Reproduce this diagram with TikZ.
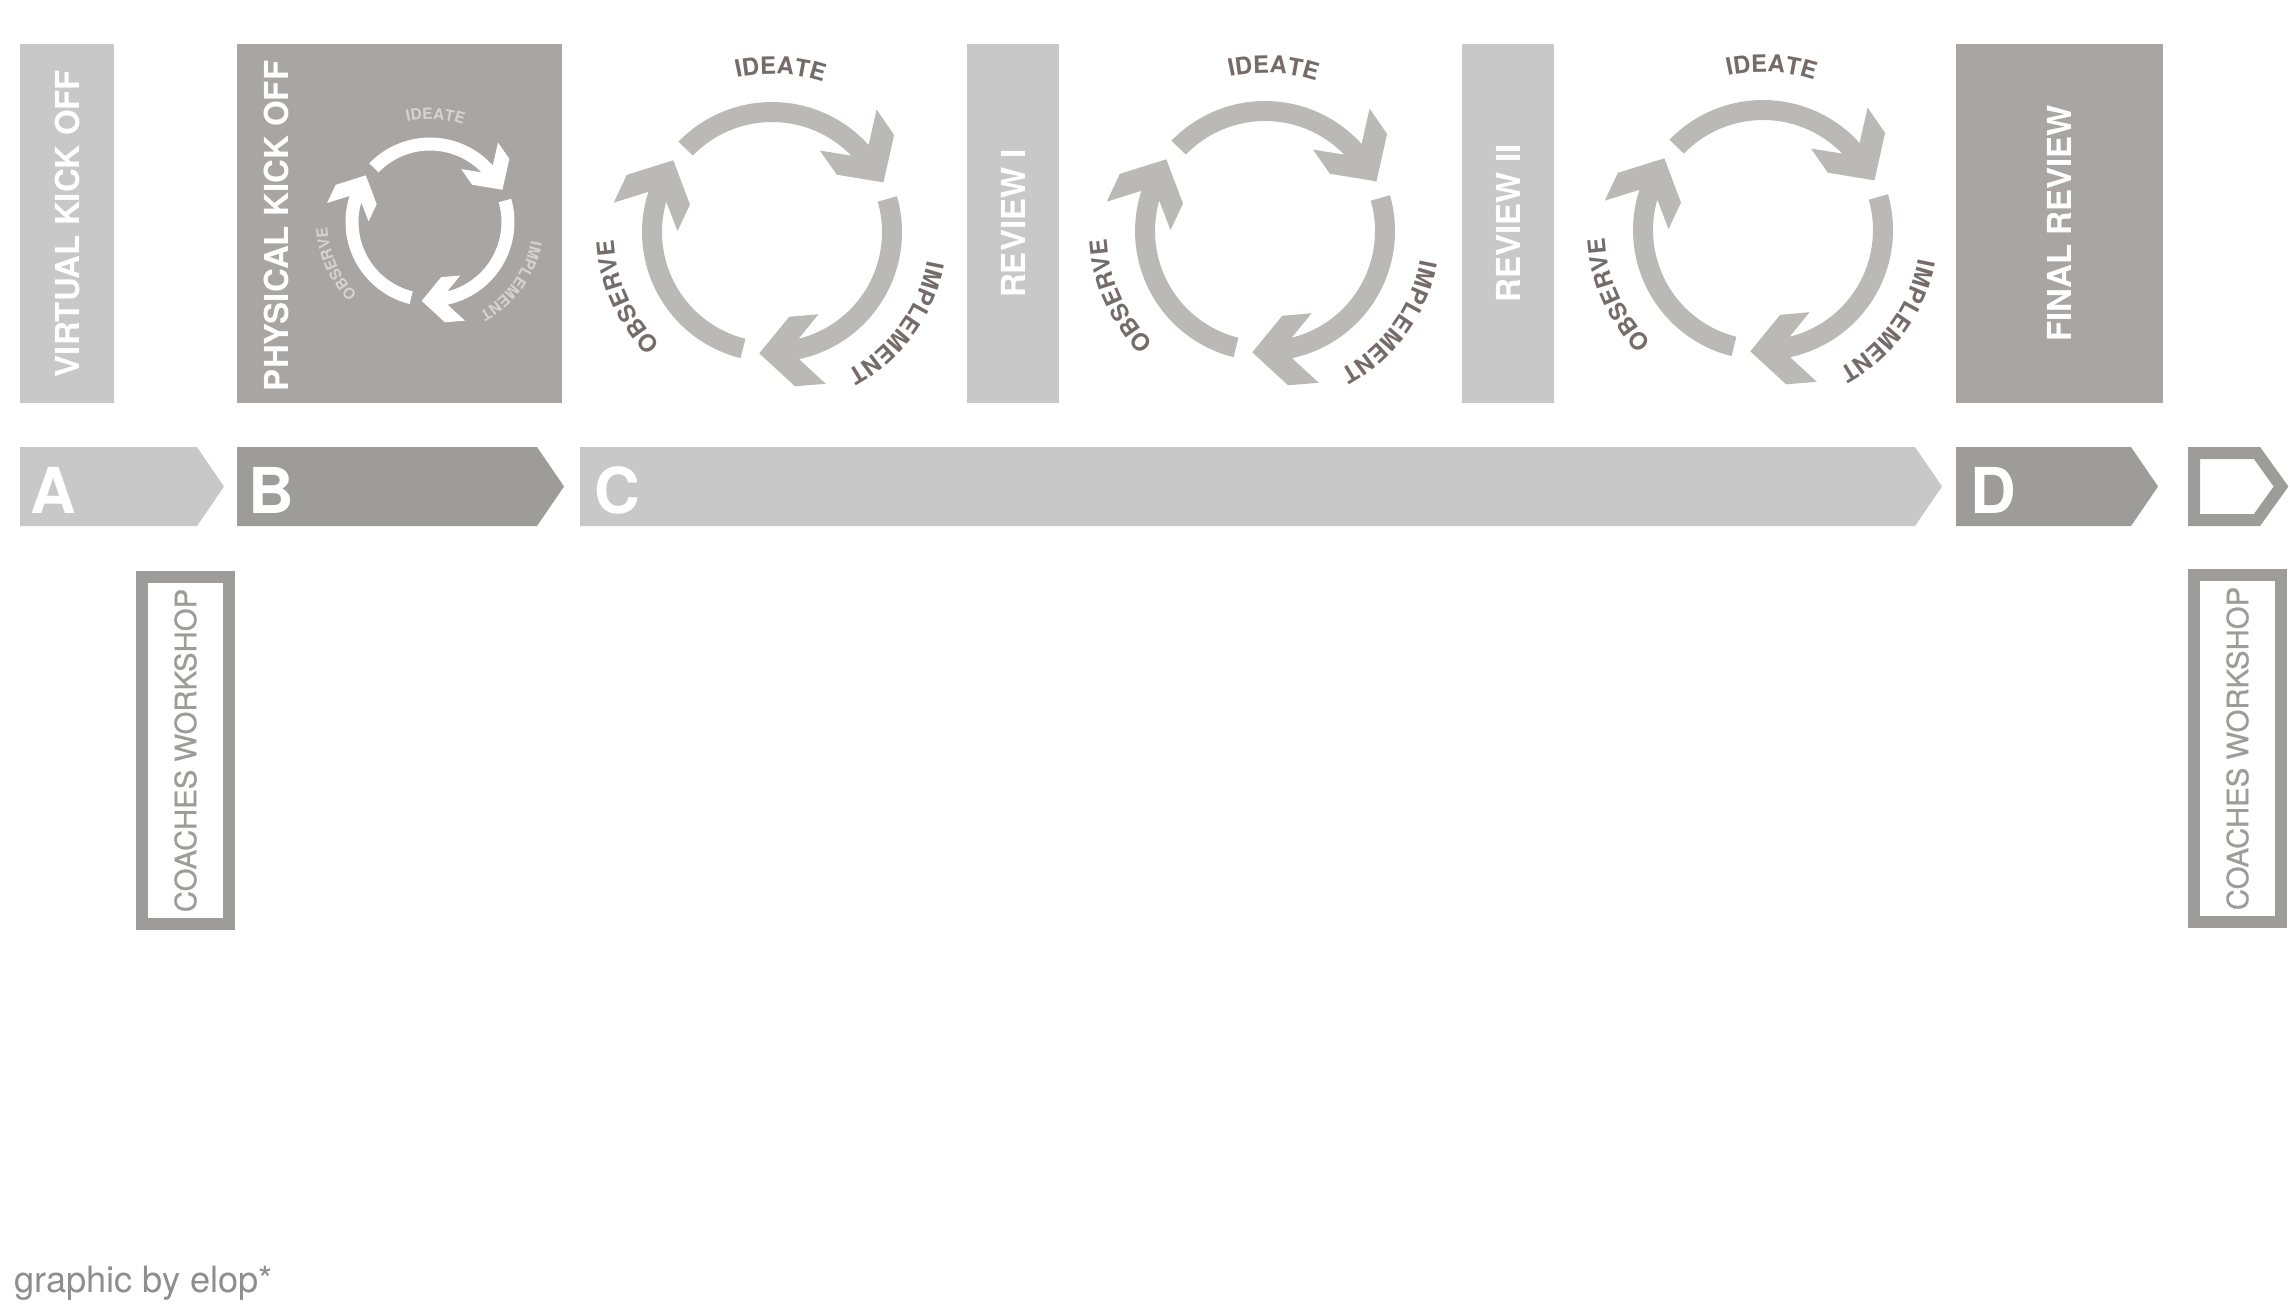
\documentclass[tikz,border=0pt]{standalone}
\usepackage{fontspec}
\setmainfont{TeX Gyre Heros}
\newfontfamily\coachfont[FakeBold=0.8]{TeX Gyre Heros}
\usepackage{tikz}
\usetikzlibrary{decorations.text}

\definecolor{boxlight}{HTML}{C9C8C9}
\definecolor{boxdark}{HTML}{A8A5A3}
\definecolor{phasedark}{HTML}{9D9C9B}
\definecolor{cyclegrey}{HTML}{BAB9B5}
\definecolor{cycletext}{HTML}{756C69}
\definecolor{cyclelight}{HTML}{D5D3D1}
\definecolor{coachgrey}{HTML}{9D9C9B}
\definecolor{creditgrey}{HTML}{8E8E8E}

% #1 centre, #2 scale, #3 arrow colour, #4 label colour, #5 label size
\newcommand{\ioicycle}[5]{%
\begin{scope}[shift={#1},scale=#2]
\foreach \t in {24,-96,-216}
	\fill[#3] ({\t+112}:1.3) arc[start angle=\t+112,end angle=\t+18,radius=1.3]
		-- ({\t+25.5}:1.61) -- ({\t+14.5}:1.56) -- ({\t}:1.22) -- ({\t+17.5}:0.865)
		-- ({\t+35.5}:0.945) -- ({\t+20}:1.1)
		arc[start angle=\t+20,end angle=\t+112,radius=1.1] -- cycle;
\path[decorate,decoration={text along path,text align=center,
		text={|\fontsize{#5}{#5}\selectfont\bfseries\color{#4}|IDEATE}}]
	(127:1.58) arc[start angle=127,end angle=47,radius=1.58];
\path[decorate,decoration={text along path,text align=center,
		text={|\fontsize{#5}{#5}\selectfont\bfseries\color{#4}|OBSERVE}}]
	(244:1.58) arc[start angle=244,end angle=164,radius=1.58];
\path[decorate,decoration={text along path,text align=center,
		text={|\fontsize{#5}{#5}\selectfont\bfseries\color{#4}|IMPLEMENT}}]
	(9:1.58) arc[start angle=9,end angle=-81,radius=1.58];
\end{scope}}

\begin{document}
\begin{tikzpicture}

\tikzstyle{every node}=[inner sep=0pt,outer sep=0pt]
\tikzstyle{lightbox}=[fill=boxlight,text=white,font=\fontsize{9.4}{11}\selectfont\bfseries]
\tikzstyle{darkbox}=[fill=boxdark,text=white,font=\fontsize{9.4}{11}\selectfont\bfseries]
\tikzstyle{phaseletter}=[text=white,font=\fontsize{18}{20}\selectfont\bfseries]
\tikzstyle{coachbox}=[draw=coachgrey,line width=0.12cm,text=coachgrey,font=\fontsize{8.35}{10}\coachfont]

\useasboundingbox (0,0) rectangle (22.9,-13.07);

% sessions on top
\node[lightbox,rotate=90,minimum width=3.59cm,minimum height=0.94cm] (virtual) at (0.67,-2.235) {VIRTUAL KICK OFF};
\node[darkbox,minimum width=3.25cm,minimum height=3.59cm] (physical) at (3.995,-2.235) {};
\node[darkbox,fill=none,rotate=90,anchor=west] (physicallabel) at (2.765,-3.91) {PHYSICAL KICK OFF};
\node[lightbox,rotate=90,minimum width=3.59cm,minimum height=0.92cm] (review1) at (10.13,-2.235) {REVIEW I};
\node[lightbox,rotate=90,minimum width=3.59cm,minimum height=0.92cm] (review2) at (15.08,-2.235) {REVIEW II};
\node[darkbox,rotate=90,minimum width=3.59cm,minimum height=2.07cm] (final) at (20.595,-2.235) {FINAL REVIEW};

% ideate - implement - observe loops
\ioicycle{(4.30,-2.22)}{0.65}{white}{cyclelight}{4.4}
\ioicycle{(7.72,-2.32)}{1}{cyclegrey}{cycletext}{6.8}
\ioicycle{(12.65,-2.31)}{1}{cyclegrey}{cycletext}{6.8}
\ioicycle{(17.63,-2.30)}{1}{cyclegrey}{cycletext}{6.8}

% phases
\fill[boxlight] (0.20,-4.47) -- (1.97,-4.47) -- (2.24,-4.865) -- (1.97,-5.26) -- (0.20,-5.26) -- cycle;
\fill[phasedark] (2.37,-4.47) -- (5.37,-4.47) -- (5.64,-4.865) -- (5.37,-5.26) -- (2.37,-5.26) -- cycle;
\fill[boxlight] (5.80,-4.47) -- (19.15,-4.47) -- (19.42,-4.865) -- (19.15,-5.26) -- (5.80,-5.26) -- cycle;
\fill[phasedark] (19.56,-4.47) -- (21.31,-4.47) -- (21.58,-4.865) -- (21.31,-5.26) -- (19.56,-5.26) -- cycle;
\draw[coachgrey,line width=0.12cm] (21.94,-4.53) -- (22.57,-4.53) -- (22.81,-4.865)
	-- (22.57,-5.20) -- (21.94,-5.20) -- cycle;
\node[phaseletter,anchor=base west] (phaseA) at (0.31,-5.13) {A};
\node[phaseletter,anchor=base west] (phaseB) at (2.48,-5.13) {B};
\node[phaseletter,anchor=base west] (phaseC) at (5.94,-5.13) {C};
\node[phaseletter,anchor=base west] (phaseD) at (19.70,-5.13) {D};

% coaches workshops
\node[coachbox,rotate=90,minimum width=3.47cm,minimum height=0.87cm] (coachesA) at (1.855,-7.505) {COACHES WORKSHOP};
\node[coachbox,rotate=90,minimum width=3.47cm,minimum height=0.87cm] (coachesB) at (22.375,-7.485) {COACHES WORKSHOP};

\node[anchor=base west,text=creditgrey,font=\fontsize{10.3}{12}\selectfont] (credit) at (0.14,-12.92) {graphic by elop*};

\end{tikzpicture}
\end{document}
